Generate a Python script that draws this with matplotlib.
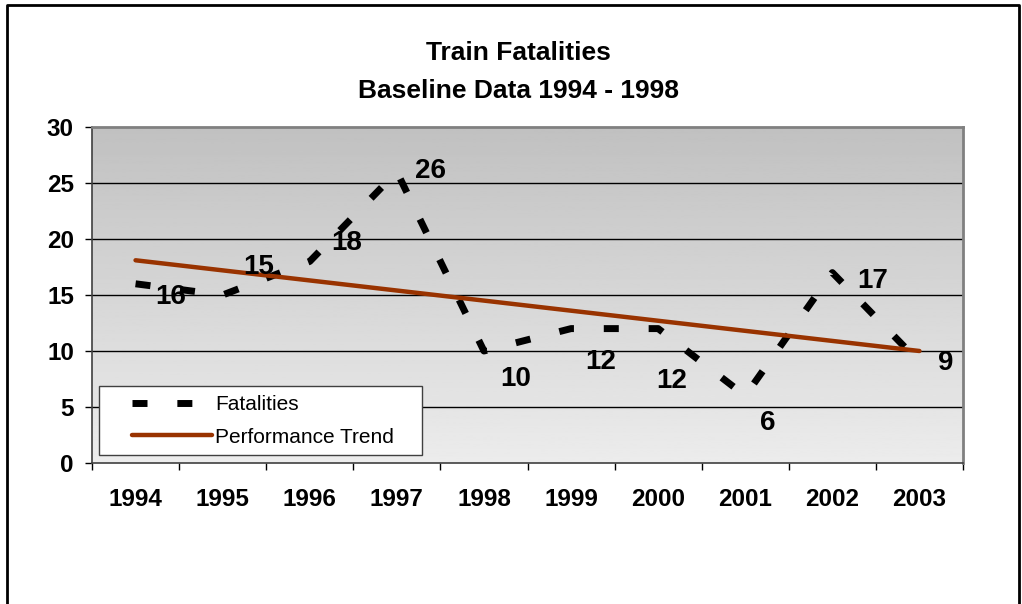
import matplotlib
matplotlib.use("Agg")
import matplotlib.pyplot as plt
import numpy as np
from matplotlib.lines import Line2D
from matplotlib.patches import Rectangle

plt.rcParams["font.family"] = ["Liberation Sans", "DejaVu Sans"]

YEARS = ["1994", "1995", "1996", "1997", "1998",
         "1999", "2000", "2001", "2002", "2003"]
FATALITIES = [16, 15, 18, 26, 10, 12, 12, 6, 17, 9]
# performance trend, read at first and last year
TREND = [18.1, 10.0]

# label offsets in points (Excel-style placement)
LABEL_OFFSETS = [(25, -9.5), (26, 20.5), (26.5, 13), (24.5, 0.5), (22.5, -20),
                 (21, -24), (9.5, -38), (16.5, -19.5), (29, -6), (19, -0.5)]

BROWN = "#993300"
W, H = 1022, 604

fig = plt.figure(figsize=(W / 100, H / 100), dpi=100)
ax = fig.add_axes([92 / W, 1 - 463 / H, 871 / W, 336 / H])

x = np.arange(len(YEARS))

# gradient plot area
grad = np.linspace(0.755, 0.925, 256).reshape(-1, 1)
ax.imshow(grad, cmap="gray", vmin=0, vmax=1, aspect="auto",
          extent=(-0.5, len(YEARS) - 0.5, 0, 30), origin="upper", zorder=0)

ax.set_ylim(0, 30)
ax.set_xlim(-0.5, len(YEARS) - 0.5)
ax.set_yticks(range(0, 31, 5))
for v in range(5, 30, 5):
    ax.axhline(v, color="black", linewidth=1.0, zorder=1)

dash_line, = ax.plot(x, FATALITIES, color="black", linewidth=5.0, dashes=(2.16, 4.3),
                     dash_capstyle="butt", solid_joinstyle="miter", zorder=3)
trend_line, = ax.plot([x[0], x[-1]], TREND, color=BROWN, linewidth=3.2,
                      solid_capstyle="round", zorder=4)

for xi, v, off in zip(x, FATALITIES, LABEL_OFFSETS):
    ax.annotate(str(v), (xi, v), xytext=off, textcoords="offset points",
                ha="center", va="center", fontsize=20, fontweight="bold", zorder=5)

# x ticks between categories, labels at centres
ax.set_xticks(np.arange(-0.5, len(YEARS), 1.0))
ax.set_xticklabels([])
ax.set_xticks(x, minor=True)
ax.set_xticklabels(YEARS, minor=True, fontsize=17.5, fontweight="bold")
ax.tick_params(axis="x", which="major", direction="out", length=5, width=1)
ax.tick_params(axis="x", which="minor", length=0, pad=18)
ax.tick_params(axis="y", direction="out", length=5, width=1, pad=8,
               labelsize=17.5)
for lab in ax.get_yticklabels():
    lab.set_fontweight("bold")

for s in ["top", "right"]:
    ax.spines[s].set_color("#808080")
    ax.spines[s].set_linewidth(2.0)
for s in ["left", "bottom"]:
    ax.spines[s].set_color("#404040")
    ax.spines[s].set_linewidth(1.2)

# legend box + entries
fig.add_artist(Rectangle((99 / W, 1 - 455 / H), 323 / W, 69 / H,
                         transform=fig.transFigure, facecolor="white",
                         edgecolor="#404040", linewidth=1.0, zorder=3))
fig.legend([dash_line, trend_line], ["Fatalities", "Performance Trend"],
           loc="upper left", bbox_to_anchor=(132 / W, 1 - 395 / H),
           frameon=False, fontsize=15, handlelength=3.85, handletextpad=0.15,
           borderpad=0, borderaxespad=0, labelspacing=0.66)

fig.text(518 / W, 1 - 53.5 / H, "Train Fatalities", ha="center", va="center",
         fontsize=19, fontweight="bold")
fig.text(518 / W, 1 - 91 / H, "Baseline Data 1994 - 1998", ha="center",
         va="center", fontsize=19, fontweight="bold")

# outer chart border
bx0, bx1, by1 = 7 / W, 1019 / W, 1 - 5 / H
fig.add_artist(Line2D([bx0, bx0, bx1, bx1], [0, by1, by1, 0],
                      transform=fig.transFigure, color="black", linewidth=2))

fig.savefig("out.png", dpi=100, facecolor="white")
